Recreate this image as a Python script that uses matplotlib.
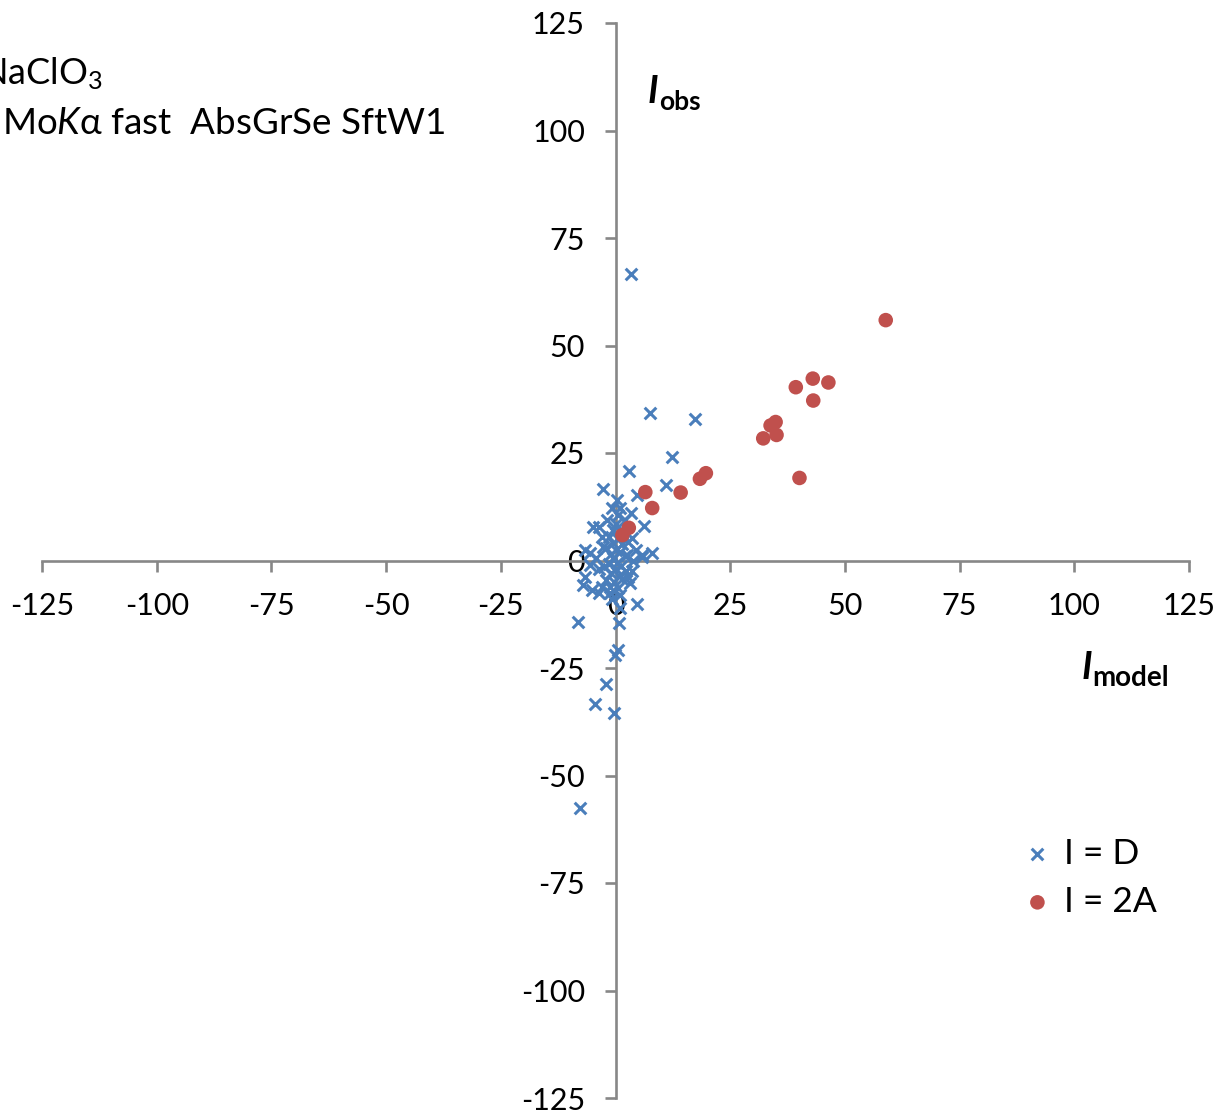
import numpy as np
import matplotlib
matplotlib.use("Agg")
import matplotlib.pyplot as plt

plt.rcParams['font.family'] = ['Lato', 'DejaVu Sans']
plt.rcParams['mathtext.fontset'] = 'custom'
plt.rcParams['mathtext.rm'] = 'Lato'
plt.rcParams['mathtext.it'] = 'Lato:italic'
plt.rcParams['mathtext.bf'] = 'Lato:bold'
plt.rcParams['axes.unicode_minus'] = False

# I = D series (model, obs)
d_model = [3.4, 7.5, 17.3, 12.3, 2.9, 10.9, -2.7, 4.7, 0.3, -0.8, 1.0, 0.6, 2.1, 3.3,
           6.2, -4.8, -3.7, -0.5, 3.5, -6.6, 7.9, 5.7, -5.5, -2.7, 2.4, -6.6, -7.0,
           -5.2, -3.0, -3.7, -1.2, 3.2, 2.8, 4.6, 1.0, -8.1, 0.8, 0.6, -0.1, -2.1,
           -4.5, -0.3, -7.7,
           -1.5, 0.5, -0.5, 1.5, -2.0, 0.0, 1.0, -1.0, 2.0, -0.5, 0.3, -1.5, 1.2,
           -2.5, 0.0, 2.2, -1.0, 0.8, -2.0, 1.5, -0.3, 0.5, -1.2, 1.0, -4.2, -3.5,
           3.8, 2.8, -3.0, 0.2, -1.8, 1.5, -0.8, 3.5, -5.5, 4.5, 5.8]
d_obs = [66.6, 34.3, 32.9, 24.1, 20.8, 17.6, 16.6, 15.3, 14.1, 12.1, 12.1, 10.6, 9.4, 11.0,
         8.0, 7.7, 7.7, 7.1, 5.2, 2.4, 1.7, 1.3, 1.8, 3.2, 1.3, -3.8, -5.7,
         -6.9, -6.1, -7.6, -6.1, -5.3, -3.8, -10.0, -11.1, -14.2, -14.5, -20.7, -22.0, -28.7,
         -33.4, -35.4, -57.6,
         5.5, 5.0, 4.0, 3.8, 3.0, 2.5, 2.0, 1.5, 1.0, 0.5, -0.5, -0.8, -1.2,
         -1.5, -2.0, -2.5, -3.0, -3.5, -4.5, -4.2, -5.0, -6.5, -7.5, -8.0, 0.5, -2.0,
         0.0, 4.2, 5.5, 8.5, 9.5, 6.5, -9.0, -2.5, -1.0, 2.5, 0.8]

# I = 2A series
a_model = [58.9, 39.3, 43.0, 46.4, 43.1, 34.9, 33.8, 35.1, 32.2, 40.1, 19.7, 18.4,
           14.2, 6.5, 8.0, 2.9, 1.5]
a_obs = [55.9, 40.3, 42.3, 41.4, 37.2, 32.2, 31.4, 29.2, 28.4, 19.2, 20.3, 19.0,
         15.8, 15.9, 12.2, 7.6, 5.9]

ticks = np.arange(-125, 126, 25)

fig = plt.figure(figsize=(12.23, 11.15), dpi=100)
ax = fig.add_axes([42 / 1223, 17 / 1115, 1147 / 1223, 1075 / 1115])

ax.scatter(d_model, d_obs, marker='x', s=70, linewidths=2.2, color='#4A7EBB',
           label='I = D', zorder=3, clip_on=False)
ax.scatter(a_model, a_obs, marker='o', s=110, color='#C0504D', edgecolors='none',
           label='I = 2A', zorder=4, clip_on=False)

ax.set_xlim(-125, 125)
ax.set_ylim(-125, 125)
ax.set_xticks(ticks)
ax.set_yticks(ticks)

for side in ['top', 'right']:
    ax.spines[side].set_visible(False)
for side in ['left', 'bottom']:
    ax.spines[side].set_position('zero')
    ax.spines[side].set_color('#878787')
    ax.spines[side].set_linewidth(1.9)

ax.tick_params(axis='both', direction='out', length=8, width=1.9, color='#878787',
               labelsize=22, labelcolor='black')
ax.tick_params(axis='x', pad=15)
ax.tick_params(axis='y', pad=14)

# axis titles
ax.text(6.9, 106.5, 'I', fontsize=27, fontweight='bold', style='italic', ha='left',
        va='baseline')
ax.text(9.4, 104.8, 'obs', fontsize=19, fontweight='bold', ha='left', va='baseline')
ax.text(101.5, -27.6, 'I', fontsize=27, fontweight='bold', style='italic', ha='left',
        va='baseline')
ax.text(104.0, -29.3, 'model', fontsize=20, fontweight='bold', ha='left', va='baseline')

# sample label, partly cut at the left edge as in the original
fig.text(103 / 1223, 1 - 84 / 1115, 'NaClO$_3$', fontsize=26, ha='right',
         va='baseline')
fig.text(445 / 1223, 1 - 134 / 1115, 'Mo$\\it{K}$\u03b1 fast  AbsGrSe SftW1',
         fontsize=26.5, ha='right', va='baseline')

leg = ax.legend(loc='upper left', bbox_to_anchor=(1002 / 1223, 1 - 820 / 1115),
                bbox_transform=fig.transFigure, frameon=False, fontsize=25.5,
                handletextpad=0.25, labelspacing=0.45, handlelength=1.0,
                borderpad=0)

fig.savefig('out.png', dpi=100)
